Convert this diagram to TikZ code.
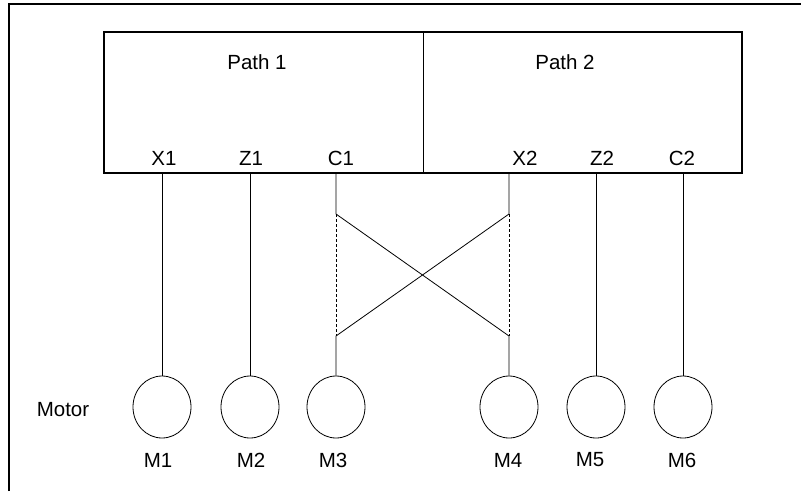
\documentclass[tikz,border=0pt]{standalone}
\usepackage{fontspec}
\setmainfont{Liberation Sans}
\usepackage{tikz}
\usetikzlibrary{positioning,calc,shapes.geometric}

\begin{document}
\begin{tikzpicture}[x=1pt,y=-1pt,
  lab/.style={font=\fontsize{20.5}{24}\selectfont,inner sep=0pt},
  half/.style={rectangle,minimum width=319pt,minimum height=141pt,inner sep=0pt},
  motor/.style={draw,ellipse,minimum width=58pt,minimum height=62pt,inner sep=0pt,line width=0.8pt},
  wire/.style={line width=0.8pt},
  guide/.style={densely dashed,line width=0.5pt}]
 \useasboundingbox (0,0) rectangle (801,491);
 % outer frame
 \draw[line width=2pt] (9,491) -- (9,4) -- (801,4);
 % controller with two paths
 \node[half] (p1) at (263.5,102.5) {};
 \node[half] (p2) at (582.5,102.5) {};
 \draw[line width=2pt] (p1.north west) rectangle (p2.south east);
 \draw[line width=0.8pt] (p1.north east) -- (p1.south east);
 \node[lab] (t1) at (257,62) {Path 1};
 \node[lab] (t2) at (565,62) {Path 2};
 \node[lab] (x1) at (164,158) {X1};
 \node[lab] (z1) at (251,158) {Z1};
 \node[lab] (c1) at (341,158) {C1};
 \node[lab] (x2) at (525,158) {X2};
 \node[lab] (z2) at (602,158) {Z2};
 \node[lab] (c2) at (682,158) {C2};
 % motors
 \node[motor] (m1) at (162,407) {};
 \node[motor] (m2) at (250,407) {};
 \node[motor] (m3) at (336,407) {};
 \node[motor] (m4) at (509,407) {};
 \node[motor] (m5) at (596,407) {};
 \node[motor] (m6) at (683,407) {};
 \node[lab] (mot) at (63,410) {Motor};
 \node[lab] (l1) at (158,460) {M1};
 \node[lab] (l2) at (251,460) {M2};
 \node[lab] (l3) at (333,460) {M3};
 \node[lab] (l4) at (508,460) {M4};
 \node[lab] (l5) at (590,460) {M5};
 \node[lab] (l6) at (682,460) {M6};
 % straight wires
 \foreach \m in {m1,m2,m5,m6}
  \draw[wire] (\m.north |- p1.south) -- (\m.north);
 % crossed wires C1 / X2
 \coordinate (c1a) at (336,214);
 \coordinate (c1b) at (336,336);
 \coordinate (x2a) at (509,214);
 \coordinate (x2b) at (509,336);
 \draw[wire] (c1a |- p1.south) -- (c1a) -- (x2b) -- (m4.north);
 \draw[wire] (x2a |- p2.south) -- (x2a) -- (c1b) -- (m3.north);
 \draw[guide] (c1a) -- (c1b);
 \draw[guide] (x2a) -- (x2b);
\end{tikzpicture}
\end{document}
